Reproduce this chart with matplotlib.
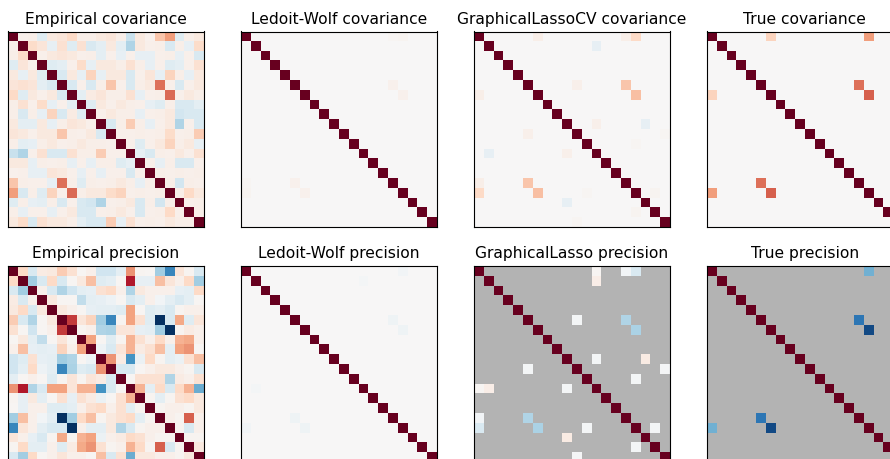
import numpy as np
import matplotlib
matplotlib.use("Agg")
import matplotlib.pyplot as plt

N = 20

# ---- values (upper triangle, row i holds columns i+1..19) ----
emp_cov_upper = [
    [.05, .06, -.12, .10, .12, .20, .06, .06, .10, .12, .06, -.22, .10, .04, .28, .42, -.12, .06, .10],
    [.18, .12, -.08, .15, -.12, .15, -.15, -.10, .10, -.10, -.30, .10, .05, .06, -.15, .06, -.08, .18],
    [.05, .10, .12, .10, .05, .06, -.10, .05, -.08, .05, -.08, -.08, .05, .06, -.08, .05, -.15],
    [-.12, -.10, .05, .18, -.08, .10, .10, .06, .15, .06, -.08, .05, -.12, -.10, .05, .15],
    [-.15, .10, -.08, .22, -.08, .10, .10, -.15, .05, .12, -.08, .22, .06, -.08, .10],
    [-.15, .05, -.15, .06, .28, .05, -.15, .06, .10, .55, .05, -.15, .05, .10],
    [-.10, .08, .12, .06, .06, .15, -.08, .05, .06, .57, .05, .10, .06],
    [-.12, .10, .05, .10, .06, .05, -.08, -.12, .06, -.15, -.15, -.10],
    [.05, .10, .06, .06, -.08, .05, .06, .10, -.18, -.15, -.15],
    [-.15, .06, .25, .06, -.08, .05, .10, -.30, .05, -.15],
    [.05, .05, .06, .05, .06, .18, .05, .06, .25],
    [.05, -.12, .05, .10, .22, .06, .10, -.08],
    [-.08, -.15, .06, .05, .10, .05, .15],
    [.05, -.08, .06, -.15, -.15, .05],
    [.06, .05, .06, .05, .06],
    [.06, -.18, .06, .05],
    [.06, .20, .10],
    [.05, .06],
    [.06],
]

emp_prec_upper = [
    [.20, -.15, .08, .10, .25, .15, .02, .05, -.20, -.20, -.10, .45, .03, .02, -.35, -.65, .12, .03, -.15],
    [-.35, -.15, .20, -.15, .02, .10, .30, -.12, -.10, .02, .80, -.08, -.08, .30, .12, .05, .20, -.35],
    [.05, -.15, -.30, -.20, -.10, -.08, .15, .20, .05, -.30, .10, .05, .05, .05, -.08, -.10, .20],
    [.10, .02, .02, -.25, -.10, -.08, -.05, .02, -.15, -.10, .05, -.03, -.10, -.15, -.10, .02],
    [.10, .05, .02, -.08, -.10, -.10, -.12, .40, .02, -.12, -.10, -.15, .03, .05, .05],
    [.70, .12, .22, -.35, -.65, .03, .40, .15, -.12, -1.0, -.15, .38, -.12, .12],
    [.03, .05, -.30, -.32, .12, .12, -.08, -.10, -.35, -1.0, .03, .08, .05],
    [.40, .02, -.12, .03, .35, .15, .05, .20, .05, .35, .38, .05],
    [-.05, -.15, .12, .35, .08, .15, .30, -.10, .40, .45, .02],
    [.45, .08, -.60, -.06, .20, .03, -.10, -.06, .15, .30],
    [-.15, -.15, .02, .05, .10, .10, .05, .03, -.15],
    [.02, .15, .15, .15, -.30, .08, .05, .15],
    [.35, -.10, .20, -.15, .20, .35, -.50],
    [.03, -.10, .03, .15, .20, .10],
    [.03, .05, .05, .03, .10],
    [.05, .03, .60, .05],
    [.03, -.15, .05],
    [.03, .03],
    [.10],
]

# sparse matrices: (row, col, value), mirrored
lw_cov_cells = [(0, 16, .03), (5, 15, .04), (6, 16, .04), (0, 15, .02)]
lw_prec_cells = [(0, 16, -.03), (5, 15, -.04), (6, 16, -.04), (1, 12, -.02)]
glcv_cov_cells = [(0, 6, .06), (0, 15, .06), (0, 16, .20), (1, 12, -.08), (5, 10, .05),
                  (5, 15, .28), (6, 16, .30), (9, 12, .05), (9, 17, -.08), (10, 19, .02),
                  (11, 16, .02), (16, 18, .03)]
gl_prec_cells = [(0, 12, .02), (0, 15, -.03), (0, 16, -.15), (1, 12, .07), (5, 10, -.02),
                 (5, 15, -.30), (6, 16, -.32), (9, 12, -.02), (9, 17, .08), (10, 19, -.01),
                 (11, 16, -.02), (16, 18, -.02)]
true_cov_cells = [(0, 6, .22), (0, 16, .42), (5, 15, .55), (6, 16, .60)]
true_prec_cells = [(0, 16, -.48), (5, 15, -.72), (6, 16, -.90)]

cov_diag = 1.0
prec_diag = 1.5

cov_titles = ["Empirical", "Ledoit-Wolf", "GraphicalLassoCV", "True"]
prec_titles = ["Empirical", "Ledoit-Wolf", "GraphicalLasso", "True"]


def from_upper(upper, diag):
    m = np.zeros((N, N))
    for i, row in enumerate(upper):
        for k, v in enumerate(row):
            j = i + 1 + k
            m[i, j] = v
            m[j, i] = v
    np.fill_diagonal(m, diag)
    return m


def from_cells(cells, diag):
    m = np.zeros((N, N))
    for i, j, v in cells:
        m[i, j] = v
        m[j, i] = v
    np.fill_diagonal(m, diag)
    return m


covs = [from_upper(emp_cov_upper, cov_diag), from_cells(lw_cov_cells, cov_diag),
        from_cells(glcv_cov_cells, cov_diag), from_cells(true_cov_cells, cov_diag)]
precs = [from_upper(emp_prec_upper, prec_diag), from_cells(lw_prec_cells, prec_diag),
         from_cells(gl_prec_cells, prec_diag), from_cells(true_prec_cells, prec_diag)]
prec_mask = [False, False, True, True]

W, H = 890, 459
fig = plt.figure(figsize=(W / 100, H / 100), dpi=100)

size = 195.5
lefts = [8 + 233 * i for i in range(4)]
tops = [31.5, 266]
title_fs = 11.2


def add_ax(left, top):
    return fig.add_axes([left / W, (H - top - size) / H, size / W, size / H])


for i in range(4):
    ax = add_ax(lefts[i], tops[0])
    ax.imshow(covs[i], interpolation="nearest", vmin=-1, vmax=1, cmap=plt.cm.RdBu_r)
    ax.set_xticks(())
    ax.set_yticks(())
    ax.set_title("%s covariance" % cov_titles[i], fontsize=title_fs, pad=5.5)

for i in range(4):
    ax = add_ax(lefts[i], tops[1])
    data = precs[i]
    if prec_mask[i]:
        data = np.ma.masked_equal(data, 0)
    ax.imshow(data, interpolation="nearest", vmin=-1, vmax=1, cmap=plt.cm.RdBu_r)
    ax.set_xticks(())
    ax.set_yticks(())
    ax.set_title("%s precision" % prec_titles[i], fontsize=title_fs, pad=5.5)
    ax.set_facecolor(".7")

fig.savefig("out.png", dpi=100)
